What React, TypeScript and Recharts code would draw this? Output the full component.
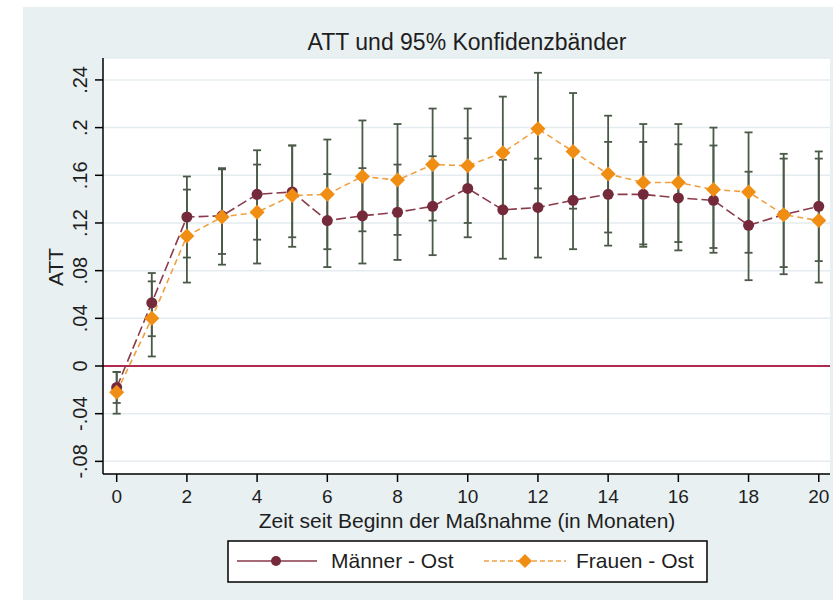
import React from "react";
import {
  ComposedChart,
  Line,
  XAxis,
  YAxis,
  CartesianGrid,
  ReferenceLine,
  ErrorBar,
} from "recharts";

// Months since start of the measure
const months = [0, 1, 2, 3, 4, 5, 6, 7, 8, 9, 10, 11, 12, 13, 14, 15, 16, 17, 18, 19, 20];

// Männer - Ost: ATT and 95% confidence bounds
const menAtt = [-0.018, 0.053, 0.125, 0.126, 0.144, 0.146, 0.122, 0.126, 0.129, 0.134, 0.149, 0.131, 0.133, 0.139, 0.144, 0.144, 0.141, 0.139, 0.118, 0.127, 0.134];
const menLo = [-0.031, 0.025, 0.091, 0.094, 0.106, 0.108, 0.083, 0.086, 0.089, 0.093, 0.108, 0.090, 0.091, 0.098, 0.101, 0.100, 0.097, 0.095, 0.072, 0.077, 0.088];
const menHi = [-0.005, 0.078, 0.159, 0.165, 0.181, 0.185, 0.161, 0.166, 0.169, 0.176, 0.191, 0.173, 0.174, 0.180, 0.188, 0.188, 0.186, 0.185, 0.163, 0.178, 0.180];

// Frauen - Ost: ATT and 95% confidence bounds
const womenAtt = [-0.022, 0.040, 0.109, 0.125, 0.129, 0.143, 0.144, 0.159, 0.156, 0.169, 0.168, 0.179, 0.199, 0.180, 0.161, 0.154, 0.154, 0.148, 0.146, 0.127, 0.122];
const womenLo = [-0.040, 0.008, 0.070, 0.085, 0.086, 0.100, 0.098, 0.113, 0.110, 0.122, 0.120, 0.132, 0.149, 0.132, 0.112, 0.102, 0.104, 0.099, 0.095, 0.083, 0.070];
const womenHi = [-0.005, 0.071, 0.148, 0.166, 0.169, 0.185, 0.190, 0.206, 0.203, 0.216, 0.216, 0.226, 0.246, 0.229, 0.210, 0.203, 0.203, 0.200, 0.196, 0.174, 0.174];

const xTicks = [0, 2, 4, 6, 8, 10, 12, 14, 16, 18, 20];
const yTicks = [-0.08, -0.04, 0, 0.04, 0.08, 0.12, 0.16, 0.2, 0.24];

const title = "ATT und 95% Konfidenzbänder";
const xTitle = "Zeit seit Beginn der Maßnahme (in Monaten)";
const yTitle = "ATT";
const menName = "Männer - Ost";
const womenName = "Frauen - Ost";

const rows = months.map((m, i) => ({
  x: m,
  men: menAtt[i],
  women: womenAtt[i],
  menErr: [menAtt[i] - menLo[i], menHi[i] - menAtt[i]],
  womenErr: [womenAtt[i] - womenLo[i], womenHi[i] - womenAtt[i]],
}));

const FONT = "'Liberation Sans', Arial, sans-serif";
const TEXT = "#1e1e1e";
const MEN = "#8a3a4b";
const MEN_DOT = "#742a3a";
const WOMEN = "#f0a040";
const WOMEN_DOT = "#ef8e12";
const ERR = "#4b5a48";

const fmt = (v: number) => {
  if (v === 0) return "0";
  const s = String(Math.abs(v)).replace(/^0/, "");
  return (v < 0 ? "-" : "") + s;
};

const YTick = (props: any) => {
  const { x, y, payload } = props;
  return (
    <text
      x={x}
      y={y}
      transform={`rotate(-90 ${x} ${y})`}
      textAnchor="middle"
      fontSize={20}
      fontFamily={FONT}
      fill={TEXT}
    >
      {fmt(payload.value)}
    </text>
  );
};

const MenDot = (props: any) => {
  const { cx, cy } = props;
  if (cx == null || cy == null) return null;
  return <circle cx={cx} cy={cy} r={5.5} fill={MEN_DOT} stroke="none" />;
};

const WomenDot = (props: any) => {
  const { cx, cy } = props;
  if (cx == null || cy == null) return null;
  const r = 7.5;
  return (
    <polygon
      points={`${cx},${cy - r} ${cx + r},${cy} ${cx},${cy + r} ${cx - r},${cy}`}
      fill={WOMEN_DOT}
      stroke="none"
    />
  );
};

export default function App() {
  return (
    <div style={{ position: "absolute", left: 0, top: 0, width: 839, height: 600, background: "#ffffff", overflow: "hidden" }}>
      <div style={{ position: "absolute", left: 23, top: 7, width: 810, height: 593, background: "#e8f0f2" }} />
      <div style={{ position: "absolute", left: 0, top: 0 }}>
        <ComposedChart
          width={839}
          height={600}
          data={rows}
          margin={{ top: 58, right: 9, bottom: 96, left: 0 }}
        >
          <CartesianGrid horizontal vertical={false} stroke="#e4ecef" strokeWidth={1.5} fill="#ffffff" />
          <XAxis
            dataKey="x"
            type="number"
            domain={[-0.39, 20.32]}
            ticks={xTicks}
            interval={0}
            allowDataOverflow
            height={30}
            tickSize={8}
            tickMargin={8}
            axisLine={{ stroke: "#000", strokeWidth: 1.5 }}
            tickLine={{ stroke: "#000", strokeWidth: 1.5 }}
            tick={{ fontSize: 19, fontFamily: FONT, fill: TEXT }}
          />
          <YAxis
            type="number"
            domain={[-0.0906, 0.2584]}
            ticks={yTicks}
            interval={0}
            allowDataOverflow
            width={103}
            tickSize={8}
            tickMargin={8}
            axisLine={{ stroke: "#000", strokeWidth: 1.5 }}
            tickLine={{ stroke: "#000", strokeWidth: 1.5 }}
            tick={<YTick />}
          />
          <ReferenceLine y={0} stroke="#b02a50" strokeWidth={2} />
          <Line
            dataKey="men"
            stroke="transparent"
            strokeWidth={0}
            dot={false}
            activeDot={false}
            legendType="none"
            isAnimationActive={false}
          >
            <ErrorBar dataKey="menErr" direction="y" width={4} stroke={ERR} strokeWidth={1.8} isAnimationActive={false} />
          </Line>
          <Line
            dataKey="women"
            stroke="transparent"
            strokeWidth={0}
            dot={false}
            activeDot={false}
            legendType="none"
            isAnimationActive={false}
          >
            <ErrorBar dataKey="womenErr" direction="y" width={4} stroke={ERR} strokeWidth={1.8} isAnimationActive={false} />
          </Line>
          <Line
            dataKey="men"
            name={menName}
            stroke={MEN}
            strokeWidth={1.6}
            strokeDasharray="10 4"
            dot={<MenDot />}
            activeDot={false}
            isAnimationActive={false}
          />
          <Line
            dataKey="women"
            name={womenName}
            stroke={WOMEN}
            strokeWidth={1.6}
            strokeDasharray="6 4"
            dot={<WomenDot />}
            activeDot={false}
            isAnimationActive={false}
          />
        </ComposedChart>
      </div>
      <svg width={839} height={600} style={{ position: "absolute", left: 0, top: 0, pointerEvents: "none" }}>
        <text x={467} y={50} textAnchor="middle" fontSize={23} fontFamily={FONT} fill={TEXT}>{title}</text>
        <text x={467} y={528} textAnchor="middle" fontSize={21} fontFamily={FONT} fill={TEXT}>{xTitle}</text>
        <text x={63} y={267} transform="rotate(-90 63 267)" textAnchor="middle" fontSize={21} fontFamily={FONT} fill={TEXT}>{yTitle}</text>
        <rect x={228} y={541} width={479} height={41} fill="#ffffff" stroke="#000" strokeWidth={1.5} />
        <line x1={237} y1={561} x2={317} y2={561} stroke={MEN} strokeWidth={1.4} />
        <circle cx={276} cy={561} r={5} fill={MEN_DOT} />
        <text x={331} y={568} fontSize={21} fontFamily={FONT} fill={TEXT}>{menName}</text>
        <line x1={484} y1={561} x2={566} y2={561} stroke={WOMEN} strokeWidth={1.4} strokeDasharray="5 3" />
        <polygon points="525,554 532,561 525,568 518,561" fill={WOMEN_DOT} />
        <text x={576} y={568} fontSize={21} fontFamily={FONT} fill={TEXT}>{womenName}</text>
      </svg>
    </div>
  );
}
